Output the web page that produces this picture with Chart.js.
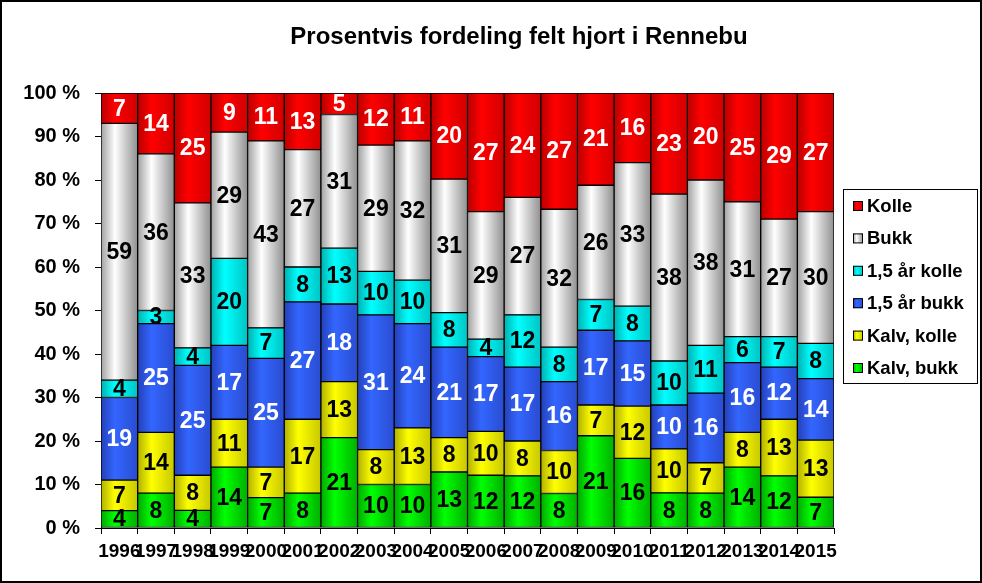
<!DOCTYPE html>
<html>
<head>
<meta charset="utf-8">
<title>Prosentvis fordeling felt hjort i Rennebu</title>
<script src="https://cdn.jsdelivr.net/npm/chart.js@4.4.1/dist/chart.umd.min.js"></script>
<style>
  html, body { margin: 0; padding: 0; background: #fff; }
  #wrap { width: 982px; height: 583px; }
</style>
</head>
<body>
<div id="wrap"><canvas id="chart" width="982" height="583"></canvas></div>
<script>
// Years on the x axis
const years = ['1996', '1997', '1998', '1999', '2000', '2001', '2002', '2003', '2004', '2005',
               '2006', '2007', '2008', '2009', '2010', '2011', '2012', '2013', '2014', '2015'];

// Percent values per category (bottom to top in the stack)
const kalvBukk   = [4, 8, 4, 14, 7, 8, 21, 10, 10, 13, 12, 12, 8, 21, 16, 8, 8, 14, 12, 7];
const kalvKolle  = [7, 14, 8, 11, 7, 17, 13, 8, 13, 8, 10, 8, 10, 7, 12, 10, 7, 8, 13, 13];
const aarBukk    = [19, 25, 25, 17, 25, 27, 18, 31, 24, 21, 17, 17, 16, 17, 15, 10, 16, 16, 12, 14];
const aarKolle   = [4, 3, 4, 20, 7, 8, 13, 10, 10, 8, 4, 12, 8, 7, 8, 10, 11, 6, 7, 8];
const bukk       = [59, 36, 33, 29, 43, 27, 31, 29, 32, 31, 29, 27, 32, 26, 33, 38, 38, 31, 27, 30];
const kolle      = [7, 14, 25, 9, 11, 13, 5, 12, 11, 20, 27, 24, 27, 21, 16, 23, 20, 25, 29, 27];

const seriesNames = ['Kalv, bukk', 'Kalv, kolle', '1,5 år bukk', '1,5 år kolle', 'Bukk', 'Kolle'];
const seriesValues = [kalvBukk, kalvKolle, aarBukk, aarKolle, bukk, kolle];

// Cylinder-like shading: dark edge, bright middle, dark edge
const palette = [
    { edge: '#00a800', mid: '#00ff00', right: '#00b000', text: '#000' },
    { edge: '#b0b000', mid: '#ffff00', right: '#c8c800', text: '#000' },
    { edge: '#2440b8', mid: '#3366ff', right: '#2a4cd0', text: '#fff' },
    { edge: '#00b0b0', mid: '#00ffff', right: '#00c4c4', text: '#000' },
    { edge: '#a0a0a0', mid: '#ffffff', right: '#909090', text: '#000' },
    { edge: '#b80000', mid: '#ff0000', right: '#d00000', text: '#fff' }
];

const FONT = '"Liberation Sans", Arial, sans-serif';

// Each year sums to roughly 100; scale to exactly 100 like a 100 % stacked column
const totals = years.map((y, i) => seriesValues.reduce((s, arr) => s + arr[i], 0));

function shade(ctx2d, x0, x1, c) {
    const g = ctx2d.createLinearGradient(x0, 0, x1, 0);
    g.addColorStop(0, c.edge);
    g.addColorStop(0.38, c.mid);
    g.addColorStop(1, c.right);
    return g;
}

const datasets = seriesValues.map((arr, s) => ({
    label: seriesNames[s],
    data: arr.map((v, i) => v / totals[i] * 100),
    borderColor: '#000',
    borderWidth: 1,
    borderSkipped: false,
    categoryPercentage: 1,
    barPercentage: 1,
    backgroundColor: function(context) {
        const chart = context.chart;
        const xScale = chart.scales.x;
        if (!chart.chartArea || !xScale || context.dataIndex === undefined) return palette[s].mid;
        const cx = xScale.getPixelForValue(context.dataIndex);
        const half = xScale.width / years.length / 2;
        return shade(chart.ctx, cx - half, cx + half, palette[s]);
    }
}));

// Numbers written in the middle of each segment
const segmentLabels = {
    id: 'segmentLabels',
    afterDatasetsDraw(chart) {
        const ctx = chart.ctx;
        ctx.save();
        ctx.font = 'bold 23px ' + FONT;
        ctx.textAlign = 'center';
        ctx.textBaseline = 'middle';
        chart.data.datasets.forEach((ds, s) => {
            const meta = chart.getDatasetMeta(s);
            ctx.fillStyle = palette[s].text;
            meta.data.forEach((bar, i) => {
                const yMid = (bar.y + bar.base) / 2;
                ctx.fillText(String(seriesValues[s][i]), bar.x, yMid + 1);
            });
        });
        ctx.restore();
    }
};

// Title, legend box and outer frame
const decorations = {
    id: 'decorations',
    afterDraw(chart) {
        const ctx = chart.ctx;
        ctx.save();

        // title
        ctx.fillStyle = '#000';
        ctx.font = 'bold 24px ' + FONT;
        ctx.textAlign = 'center';
        ctx.textBaseline = 'middle';
        ctx.fillText('Prosentvis fordeling felt hjort i Rennebu', 519, 37);

        // legend
        ctx.lineWidth = 1;
        ctx.strokeStyle = '#000';
        ctx.strokeRect(843.5, 189.5, 134, 194);
        ctx.font = 'bold 18.5px ' + FONT;
        ctx.textAlign = 'left';
        for (let k = 0; k < seriesNames.length; k++) {
            const s = seriesNames.length - 1 - k;
            const cy = 206 + k * 32.4;
            ctx.fillStyle = shade(ctx, 853, 863, palette[s]);
            ctx.fillRect(853, cy - 5, 10, 10);
            ctx.strokeRect(853.5, cy - 4.5, 9, 9);
            ctx.fillStyle = '#000';
            ctx.fillText(seriesNames[s], 867, cy + 1);
        }

        // frame round the whole picture
        ctx.lineWidth = 2;
        ctx.strokeRect(1, 1, 980, 581);
        ctx.restore();
    }
};

new Chart(document.getElementById('chart'), {
    type: 'bar',
    data: {
        labels: years,
        datasets: datasets
    },
    options: {
        responsive: false,
        devicePixelRatio: 1,
        animation: false,
        layout: {
            padding: { top: 93, right: 148, bottom: 5, left: 0 }
        },
        plugins: {
            legend: { display: false },
            title: { display: false },
            tooltip: { enabled: false }
        },
        scales: {
            x: {
                stacked: true,
                afterFit: function(axis) { axis.height = 50; },
                grid: {
                    drawOnChartArea: false,
                    drawTicks: true,
                    tickLength: 6,
                    color: '#000'
                },
                border: { display: true, color: '#000', width: 1 },
                ticks: {
                    color: '#000',
                    font: { family: FONT, size: 19, weight: 'bold' },
                    maxRotation: 0,
                    minRotation: 0,
                    autoSkip: false,
                    padding: 6
                }
            },
            y: {
                stacked: true,
                min: 0,
                max: 100,
                afterFit: function(axis) { axis.width = 101; },
                grid: {
                    drawOnChartArea: false,
                    drawTicks: true,
                    tickLength: 6,
                    color: '#000'
                },
                border: { display: true, color: '#000', width: 1 },
                ticks: {
                    stepSize: 10,
                    color: '#000',
                    padding: 15,
                    font: { family: FONT, size: 20, weight: 'bold' },
                    callback: function(v) { return v + ' %'; }
                }
            }
        }
    },
    plugins: [segmentLabels, decorations]
});
</script>
</body>
</html>
